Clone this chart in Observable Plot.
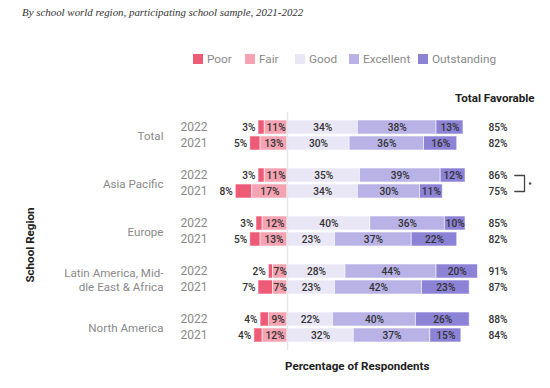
<!DOCTYPE html>
<html>
<head>
<meta charset="utf-8">
<script src="https://cdn.jsdelivr.net/npm/d3@7"></script>
<script src="https://cdn.jsdelivr.net/npm/@observablehq/plot@0.6"></script>
<style>
  body { margin: 0; background: #fff; }
  #wrap { position: relative; width: 550px; height: 388px; overflow: hidden; font-family: Roboto, "Liberation Sans", sans-serif; }
  #wrap svg { position: absolute; left: 0; top: 0; }
  .abs { position: absolute; white-space: nowrap; }
  #subtitle { left: 22px; top: 6px; font-family: "Liberation Serif", serif; font-style: italic; font-size: 10.9px; color: #333; }
  .it { position: absolute; top: 52px; display: flex; align-items: center; font-size: 11.8px; color: #8a8a8a; }
  .it .sw { width: 10px; height: 10px; margin-right: 4px; }
  .bold { font-weight: 700; font-size: 11.6px; color: #222; }
</style>
</head>
<body>
<div id="wrap">
  <div id="subtitle" class="abs">By school world region, participating school sample, 2021-2022</div>
  <div class="abs bold" style="left:455px; top:91px;">Total Favorable</div>
  <div class="abs bold" style="left:30px; top:245px; transform: translate(-50%,-50%) rotate(-90deg);">School Region</div>
  <div class="abs bold" style="left:285px; top:359px;">Percentage of Respondents</div>
</div>
<script>
const regions = ["Total", "Asia Pacific", "Europe", "Latin America, Middle East & Africa", "North America"];
const regionLabels = ["Total", "Asia Pacific", "Europe", "Latin America, Mid-\ndle East & Africa", "North America"];
const years = ["2022", "2021"];
const categories = ["Poor", "Fair", "Good", "Excellent", "Outstanding"];
const colors = ["#ee5b77", "#f5a2b2", "#e9e6f6", "#b8b2e7", "#8c82d6"];
// values per region, in order [2022, 2021]
const poor        = [3, 5,  3, 8,  3, 5,  2, 7,  4, 4];
const fair        = [11, 13, 11, 17, 12, 13, 7, 7, 9, 12];
const good        = [34, 30, 35, 34, 40, 23, 28, 23, 22, 32];
const excellent   = [38, 36, 39, 30, 36, 37, 44, 42, 40, 37];
const outstanding = [13, 16, 12, 11, 10, 22, 20, 23, 26, 15];
const favorable   = [85, 82, 86, 75, 85, 82, 91, 87, 88, 84];

// rows
const rows = [];
regions.forEach((r, ri) => years.forEach((y, yi) => {
  const i = ri * 2 + yi;
  rows.push({region: r, year: y, key: r + " " + y, i, fav: favorable[i]});
}));

// y domain with spacer rows between regions
const yDomain = [];
regions.forEach((r, ri) => {
  if (ri > 0) yDomain.push("gap" + ri);
  years.forEach(y => yDomain.push(r + " " + y));
});

// segments (diverging)
const segs = [];
rows.forEach(row => {
  const i = row.i;
  const p = poor[i], f = fair[i];
  segs.push({key: row.key, cat: "Poor", value: p, x1: -(p + f), x2: -f});
  segs.push({key: row.key, cat: "Fair", value: f, x1: -f, x2: 0});
  let acc = 0;
  [["Good", good[i]], ["Excellent", excellent[i]], ["Outstanding", outstanding[i]]].forEach(([c, v]) => {
    segs.push({key: row.key, cat: c, value: v, x1: acc, x2: acc + v});
    acc += v;
  });
});

const xMin = -30, xMax = 100;
const marginLeft = 224.9, marginRight = 56;

// bracket annotation between Asia Pacific 2022 and 2021 favorable values
const bk = [xMax + 9.8, xMax + 14.5];
const bracket = [
  {x: bk[0], y: "Asia Pacific 2022"}, {x: bk[1], y: "Asia Pacific 2022"},
  {x: bk[1], y: "Asia Pacific 2021"}, {x: bk[0], y: "Asia Pacific 2021"}
];

const chart = Plot.plot({
  width: 550,
  height: 388,
  marginTop: 115.8,
  marginBottom: 41,
  marginLeft,
  marginRight,
  x: {domain: [xMin, xMax], axis: null},
  y: {domain: yDomain, axis: null, padding: 0.1},
  color: {domain: categories, range: colors},
  style: {fontFamily: "Roboto, 'Liberation Sans', sans-serif", background: "transparent", overflow: "visible"},
  marks: [
    Plot.barX(segs, {y: "key", x1: "x1", x2: "x2", fill: "cat", stroke: "#fff", strokeWidth: 0.8, strokeOpacity: 0.7}),
    Plot.ruleX([0], {stroke: "#e6e6e6", strokeWidth: 1.5, insetTop: -4, insetBottom: -3}),
    Plot.text(segs.filter(d => d.cat !== "Poor"), {y: "key", x: d => (d.x1 + d.x2) / 2, text: d => d.value + "%", fill: "#333", fontSize: 10.2, fontWeight: 500}),
    Plot.text(segs.filter(d => d.cat === "Poor"), {y: "key", x: "x1", text: d => d.value + "%", textAnchor: "end", dx: -3, fill: "#333", fontSize: 10.2, fontWeight: 500}),
    Plot.text(rows, {y: "key", text: "year", frameAnchor: "left", textAnchor: "start", dx: 180 - marginLeft, fill: "#8a8a8a", fontSize: 12}),
    Plot.text(regions.map((r, ri) => ({r, label: regionLabels[ri]})), {y: d => d.r + " 2022", dy: 8.2, text: "label", frameAnchor: "left", textAnchor: "end", dx: 163 - marginLeft, fill: "#8a8a8a", fontSize: 11.6, lineHeight: 1.2}),
    Plot.text(rows, {y: "key", text: d => d.fav + "%", frameAnchor: "right", textAnchor: "start", dx: -6, fill: "#333", fontSize: 10.2, fontWeight: 500}),
    Plot.line(bracket, {x: "x", y: "y", stroke: "#444", strokeWidth: 1.3}),
    Plot.dot([{y: "Asia Pacific 2022"}], {x: () => xMax + 17.2, y: "y", dy: 8, r: 1.2, fill: "#444"})
  ]
});
document.getElementById("wrap").appendChild(chart);

// legend
const legendLeft = [193, 245, 295, 349, 418];
const wrap = document.getElementById("wrap");
categories.forEach((c, k) => {
  const it = document.createElement("div");
  it.className = "it";
  it.style.left = legendLeft[k] + "px";
  it.innerHTML = `<span class="sw" style="background:${colors[k]}"></span><span>${c}</span>`;
  wrap.appendChild(it);
});
</script>
</body>
</html>
